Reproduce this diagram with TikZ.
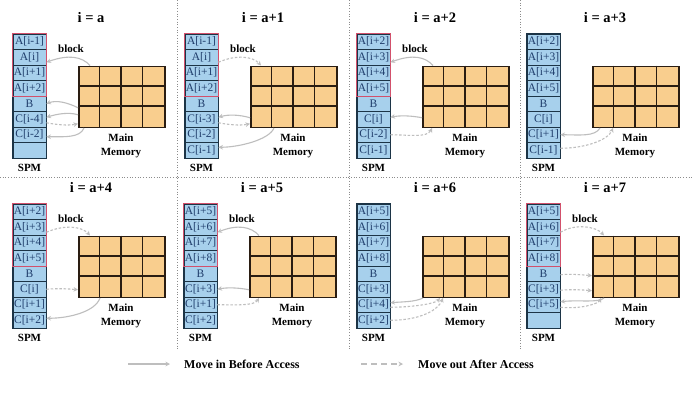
\documentclass[tikz,border=0pt]{standalone}
\usepackage{fontspec}
\setmainfont{Liberation Serif}
\usetikzlibrary{arrows.meta}
\definecolor{cellblue}{HTML}{A7D0EC}
\definecolor{celledge}{HTML}{1C3446}
\definecolor{celltext}{HTML}{1F3D6B}
\definecolor{rededge}{HTML}{D2506B}
\definecolor{memfill}{HTML}{F9CE8E}
\definecolor{memedge}{HTML}{2A1D12}
\definecolor{arrowgray}{HTML}{BEBEBE}
\definecolor{sepgray}{HTML}{8C8C8C}
\tikzset{
  paneltitle/.style={font=\bfseries\fontsize{14.5}{16}\selectfont, inner sep=0},
  spmcell/.style={draw=celledge, line width=0.9pt, fill=cellblue, minimum width=33pt, minimum height=15.5pt, inner sep=0, text=celltext, font=\fontsize{11.5}{12}\selectfont},
  spmouter/.style={draw=celledge, line width=1.6pt},
  redbox/.style={draw=rededge, line width=1.3pt},
  memgrid/.style={draw=memedge, line width=1.5pt, fill=memfill, minimum width=86pt, minimum height=61pt, inner sep=0},
  gridline/.style={draw=memedge, line width=1.5pt},
  lab/.style={font=\bfseries\fontsize{11}{14}\selectfont, inner sep=0, align=center},
  legtext/.style={font=\bfseries\fontsize{12}{14}\selectfont, inner sep=0, anchor=west},
  movein/.style={draw=arrowgray, line width=1.1pt, -{Stealth[length=4.5pt,width=4.5pt]}},
  moveout/.style={movein, dash pattern=on 2.5pt off 1.8pt},
  sepline/.style={draw=sepgray, line width=0.7pt, dotted},
}
\newcommand\spmpanel[6]{%
  \node[paneltitle] (#1t) at (#2+78,#3+18) {#4};
  \foreach \lab [count=\k from 0] in {#5} {
    \node[spmcell] (#1c\k) at (#2+16.5,#3+41.75+15.5*\k) {\lab};
  }
  \draw[spmouter] (#1c0.north west) rectangle (#1c7.south east);
  \ifnum#6=1
    \draw[redbox] (#1c0.north west) rectangle (#1c3.south east);
    \node[lab] (#1b) at (#2+58,#3+49) {block};
  \fi
  \node[memgrid, anchor=north west] (#1g) at (#2+65,#3+65.5) {};
  \foreach \i in {1,2,3} \draw[gridline] (#2+65+21.5*\i,#3+65.5) -- ++(0,61);
  \foreach \j in {1,2} \draw[gridline] (#2+65,#3+65.5+61/3*\j) -- ++(86,0);
  \node[lab] (#1m) at (#2+108,#3+146) {Main\\Memory};
  \node[lab] (#1s) at (#2+16.5,#3+168) {SPM};
}
\begin{document}
\begin{tikzpicture}[x=1pt,y=-1pt]
\useasboundingbox[fill=white] (0,0) rectangle (700,394);
% separators
\draw[sepline] (177.5,0) -- (177.5,349);
\draw[sepline] (349,0) -- (349,349);
\draw[sepline] (520,0) -- (520,349);
\draw[sepline] (0,177) -- (692,177);
% panels
\spmpanel{P1}{13}{0}{i = a}{A[i-1],A[i],A[i+1],A[i+2],B,C[i-4],C[i-2],{}}{1}
\spmpanel{P2}{185}{0}{i = a+1}{A[i-1],A[i],A[i+1],A[i+2],B,C[i-3],C[i-2],C[i-1]}{1}
\spmpanel{P3}{357}{0}{i = a+2}{A[i+2],A[i+3],A[i+4],A[i+5],B,C[i],C[i-2],C[i-1]}{1}
\spmpanel{P4}{527}{0}{i = a+3}{A[i+2],A[i+3],A[i+4],A[i+5],B,C[i],C[i+1],C[i-1]}{0}
\spmpanel{P5}{13}{170}{i = a+4}{A[i+2],A[i+3],A[i+4],A[i+5],B,C[i],C[i+1],C[i+2]}{1}
\spmpanel{P6}{184}{170}{i = a+5}{A[i+5],A[i+6],A[i+7],A[i+8],B,C[i+3],C[i+1],C[i+2]}{1}
\spmpanel{P7}{357}{170}{i = a+6}{A[i+5],A[i+6],A[i+7],A[i+8],B,C[i+3],C[i+4],C[i+2]}{0}
\spmpanel{P8}{527}{170}{i = a+7}{A[i+5],A[i+6],A[i+7],A[i+8],B,C[i+3],C[i+5],{}}{1}
% P1
\draw[movein] ([xshift=12pt]P1g.north west) .. controls +(-8,-9) and +(22,-8) .. ([yshift=-5pt]P1c1.east);
\draw[movein] ([yshift=-11pt]P1g.west) .. controls +(-10,-5) and +(10,-4) .. (P1c4.east);
\draw[movein] ([yshift=-18pt]P1g.west) .. controls +(-10,-3) and +(10,-3) .. ([yshift=2pt]P1c5.east);
\draw[moveout] ([yshift=-3.5pt]P1c5.east) .. controls +(10,2) and +(-10,2) .. ([yshift=-27pt]P1g.west);
\draw[movein] ([xshift=6pt]P1g.south west) .. controls +(-4,10) and +(18,0) .. ([yshift=-2pt]P1c6.east);
% P2
\draw[moveout] ([yshift=-5pt]P2c1.east) .. controls +(18,-8) and +(-8,-9) .. ([xshift=11pt]P2g.north west);
\draw[movein] ([yshift=-21pt]P2g.west) .. controls +(-10,-3) and +(10,-3) .. ([yshift=2pt]P2c5.east);
\draw[moveout] ([yshift=-3.5pt]P2c5.east) .. controls +(10,2) and +(-10,2) .. ([yshift=-27pt]P2g.west);
\draw[movein] ([xshift=24pt]P2g.south west) .. controls +(-5,12) and +(20,0) .. ([yshift=3pt]P2c7.east);
% P3
\draw[movein] ([xshift=11pt]P3g.north west) .. controls +(-8,-9) and +(22,-8) .. ([yshift=-5pt]P3c1.east);
\draw[movein] ([yshift=-21pt]P3g.west) .. controls +(-10,-2) and +(10,-2) .. ([yshift=2pt]P3c5.east);
\draw[moveout] (P3c6.east) .. controls +(18,0) and +(-5,10) .. ([xshift=10pt]P3g.south west);
% P4
\draw[movein] ([xshift=8pt]P4g.south west) .. controls +(-5,9) and +(18,0) .. (P4c6.east);
\draw[moveout] ([yshift=2pt]P4c7.east) .. controls +(25,0) and +(-5,12) .. ([xshift=21pt]P4g.south west);
% P5
\draw[moveout] ([yshift=-5pt]P5c1.east) .. controls +(18,-8) and +(-8,-9) .. ([xshift=12pt]P5g.north west);
\draw[moveout] (P5c5.east) .. controls +(10,-1) and +(-10,-1) .. ([yshift=-23pt]P5g.west);
\draw[movein] ([xshift=22pt]P5g.south west) .. controls +(-5,14) and +(22,0) .. ([yshift=2pt]P5c7.east);
% P6
\draw[movein] ([xshift=10pt]P6g.north west) .. controls +(-8,-9) and +(20,-8) .. ([yshift=-5pt]P6c1.east);
\draw[movein] ([yshift=-23pt]P6g.west) .. controls +(-10,-2) and +(10,-2) .. (P6c5.east);
\draw[moveout] (P6c6.east) .. controls +(18,0) and +(-5,8) .. ([xshift=10pt]P6g.south west);
% P7
\draw[movein] ([xshift=1pt]P7g.south west) .. controls +(-8,4) and +(12,-1) .. ([yshift=2pt]P7c6.east);
\draw[moveout] ([yshift=-2.5pt]P7c6.east) .. controls +(20,0) and +(-5,6) .. ([xshift=18pt]P7g.south west);
\draw[moveout] (P7c7.east) .. controls +(30,0) and +(-5,12) .. ([xshift=21pt]P7g.south west);
% P8
\draw[moveout] ([yshift=-5pt]P8c1.east) .. controls +(15,-9) and +(-8,-9) .. ([xshift=12pt]P8g.north west);
\draw[moveout] ([yshift=-1pt]P8c4.east) .. controls +(10,-1) and +(-10,-1) .. ([yshift=-9pt]P8g.west);
\draw[moveout] ([yshift=-1pt]P8c5.east) .. controls +(10,-1) and +(-10,-1) .. ([yshift=-24pt]P8g.west);
\draw[movein] ([xshift=12pt]P8g.south west) .. controls +(-5,5) and +(18,-2) .. ([yshift=3pt]P8c6.east);
\draw[moveout] ([yshift=-2.5pt]P8c6.east) .. controls +(20,2) and +(-3,6) .. ([xshift=9pt]P8g.south west);
% legend
\coordinate (l1a) at (128,364);
\coordinate (l1b) at (170,364);
\draw[movein, line width=1.6pt] (l1a) -- (l1b);
\node[legtext] (l1t) at (184,364) {Move in Before Access};
\coordinate (l2a) at (361,364);
\coordinate (l2b) at (403,364);
\draw[moveout, line width=1.6pt, dash pattern=on 6pt off 4pt] (l2a) -- (l2b);
\node[legtext] (l2t) at (418,364) {Move out After Access};
\end{tikzpicture}
\end{document}
